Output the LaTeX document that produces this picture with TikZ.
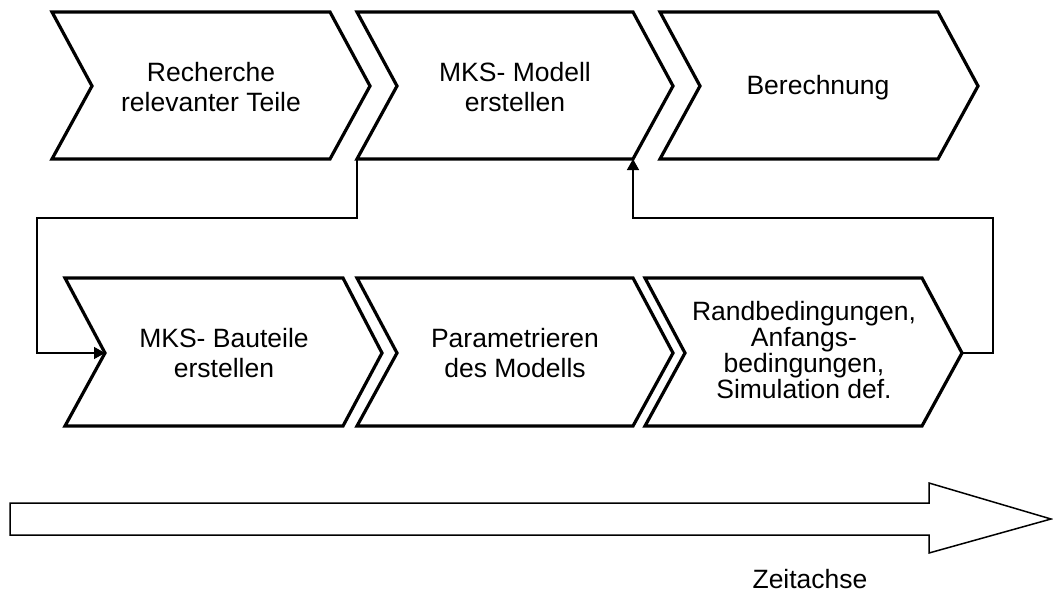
\documentclass[tikz,border=0pt]{standalone}
\usepackage{fontspec}
\setmainfont{Liberation Sans}
\usetikzlibrary{arrows.meta}
\tikzset{
  chev/.style={draw=black, line width=3.2pt, line join=miter, fill=white},
  conn/.style={draw=black, line width=1.4pt},
  lbl/.style={align=center, font=\fontsize{26.5}{30}\selectfont, inner sep=0pt},
  lbltight/.style={align=center, font=\fontsize{26.5}{25.7}\selectfont, inner sep=0pt},
  bigarrow/.style={draw=black, line width=1.5pt, fill=white, line join=miter},
  tip/.style={-{Triangle[length=11pt,width=12pt]}}
}
\begin{document}
\begin{tikzpicture}[x=1pt,y=-1pt]
\useasboundingbox (0,0) rectangle (1053,592);
% top row
\draw[chev] (52,12) -- (330,12) -- (370,86) -- (330,159) -- (52,159) -- (92,86) -- cycle;
\draw[chev] (357,12) -- (633,12) -- (673,86) -- (633,159) coordinate (c2br) -- (357,159) coordinate (c2bl) -- (397,86) -- cycle;
\draw[chev] (660,12) -- (938,12) -- (978,86) -- (938,159) -- (660,159) -- (700,86) -- cycle;
% bottom row
\draw[chev] (65,278) -- (343,278) -- (382,353) -- (343,426) -- (65,426) -- (105,353) coordinate (c4n) -- cycle;
\draw[chev] (357,278) -- (633,278) -- (673,353) -- (633,426) -- (357,426) -- (397,353) -- cycle;
\draw[chev] (645,278) -- (922,278) -- (962,353) coordinate (c6p) -- (922,426) -- (645,426) -- (685,353) -- cycle;
% labels
\node[lbl] (t1) at (211,87) {Recherche\\relevanter Teile};
\node[lbl] (t2) at (515,87) {MKS- Modell\\erstellen};
\node[lbl] (t3) at (818,88) {Berechnung};
\node[lbl] (t4) at (224,353) {MKS- Bauteile\\erstellen};
\node[lbl] (t5) at (515,353) {Parametrieren\\des Modells};
\node[lbltight] (t6) at (804,350) {Randbedingungen,\\Anfangs-\\bedingungen,\\Simulation def.};
% connectors
\coordinate (k1) at (357,218);
\coordinate (k2) at (37,218);
\coordinate (k3) at (37,353);
\draw[conn, tip] (c2bl) -- (k1) -- (k2) -- (k3) -- (c4n);
\coordinate (m1) at (993,353);
\coordinate (m2) at (993,218);
\coordinate (m3) at (633,218);
\draw[conn, tip] (c6p) -- (m1) -- (m2) -- (m3) -- (c2br);
% time axis
\draw[bigarrow] (10,503) -- (929,503) -- (929,483) -- (1051,519) -- (929,553) -- (929,535) -- (10,535) -- cycle;
\node[lbl] (zeit) at (810,579) {Zeitachse};
\end{tikzpicture}
\end{document}
